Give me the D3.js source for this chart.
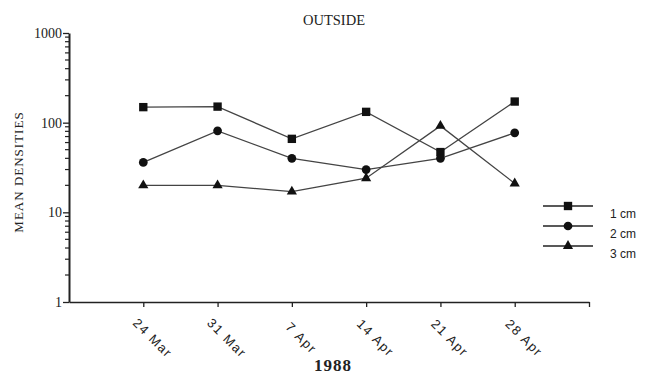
<!DOCTYPE html>
<html>
<head>
<meta charset="utf-8">
<script src="https://cdn.jsdelivr.net/npm/d3@7"></script>
<style>
  body { margin: 0; background: #fff; }
  svg { display: block; }
</style>
</head>
<body>
<div id="chart"></div>
<script>
//data
const dates = ["24 Mar", "31 Mar", "7 Apr", "14 Apr", "21 Apr", "28 Apr"];
const cm1 = [149, 151, 66, 132, 47, 172];
const cm2 = [36, 81, 40, 30, 40, 77];
const cm3 = [20, 20, 17, 24, 92, 21];
const seriesNames = ["1 cm", "2 cm", "3 cm"];
const yTicks = [1, 10, 100, 1000];

const width = 647, height = 377;
const ink = "#222";

const svg = d3.select("#chart").append("svg")
  .attr("width", width)
  .attr("height", height);

//scales: index 0..7 along x, log densities along y
const x = d3.scaleLinear().domain([0, 7]).range([69, 589]);
const y = d3.scaleLog().domain([1, 1000]).range([302, 33]);

//y axis with minor log ticks on the left
const minor = [];
for (let d = 1; d < 1000; d *= 10) {
  for (let k = 2; k <= 9; k++) minor.push(d * k);
}
svg.append("g")
  .selectAll("line")
  .data(minor)
  .join("line")
  .attr("x1", x(0) - 4)
  .attr("x2", x(0))
  .attr("y1", d => y(d))
  .attr("y2", d => y(d))
  .attr("stroke", ink)
  .attr("stroke-width", 1.2);

const yAxis = d3.axisLeft(y).tickValues(yTicks).tickFormat(d3.format("d")).tickSize(6).tickSizeOuter(0);
const gy = svg.append("g")
  .attr("transform", `translate(${x(0)},0)`)
  .call(yAxis);
gy.select(".domain").attr("stroke", ink).attr("stroke-width", 2);
gy.selectAll(".tick line").attr("stroke", ink).attr("stroke-width", 1.3);
gy.selectAll(".tick text")
  .attr("font-family", "Liberation Serif, serif")
  .attr("font-size", 14)
  .attr("fill", ink)
  .attr("x", -7);

//x axis with rotated date labels
const xAxis = d3.axisBottom(x)
  .tickValues([1, 2, 3, 4, 5, 6, 7])
  .tickFormat(d => dates[d - 1] || "")
  .tickSize(5)
  .tickSizeOuter(0);
const gx = svg.append("g")
  .attr("transform", `translate(0,${y(1)})`)
  .call(xAxis);
gx.select(".domain").attr("stroke", ink).attr("stroke-width", 1.5);
gx.selectAll(".tick line").attr("stroke", ink).attr("stroke-width", 1.3);
gx.selectAll(".tick text")
  .attr("font-family", "Liberation Sans, sans-serif")
  .attr("font-size", 13)
  .attr("letter-spacing", 1.5)
  .attr("fill", ink)
  .attr("text-anchor", "middle")
  .attr("transform", "translate(9,36) rotate(45)")
  .attr("x", 0)
  .attr("y", 0)
  .attr("dy", "0.35em");

//lines and markers
const series = [cm1, cm2, cm3];
const symbols = [d3.symbolSquare, d3.symbolCircle, d3.symbolTriangle];
const sizes = [70, 60, 45];

const line = d3.line()
  .x((d, i) => x(i + 1))
  .y(d => y(d));

series.forEach((vals, s) => {
  svg.append("path")
    .datum(vals)
    .attr("d", line)
    .attr("fill", "none")
    .attr("stroke", "#444")
    .attr("stroke-width", 1.3);
  svg.append("g")
    .selectAll("path")
    .data(vals)
    .join("path")
    .attr("transform", (d, i) => `translate(${x(i + 1)},${y(d)})`)
    .attr("d", d3.symbol().type(symbols[s]).size(sizes[s]))
    .attr("fill", "#111");
});

//legend
const legendY = [206, 226, 246];
seriesNames.forEach((name, s) => {
  const g = svg.append("g").attr("transform", `translate(0,${legendY[s]})`);
  g.append("line")
    .attr("x1", 543).attr("x2", 593)
    .attr("stroke", ink).attr("stroke-width", 1.3);
  g.append("path")
    .attr("transform", "translate(568,0)")
    .attr("d", d3.symbol().type(symbols[s]).size(sizes[s]))
    .attr("fill", "#111");
  g.append("text")
    .attr("x", 610)
    .attr("y", 12)
    .attr("font-family", "Liberation Sans, sans-serif")
    .attr("font-size", 12)
    .attr("fill", ink)
    .text(name);
});

//titles
svg.append("text")
  .attr("x", 334).attr("y", 25)
  .attr("text-anchor", "middle")
  .attr("font-family", "Liberation Serif, serif")
  .attr("font-size", 14.5)
  .attr("fill", ink)
  .text("OUTSIDE");

svg.append("text")
  .attr("transform", "translate(23,172) rotate(-90)")
  .attr("text-anchor", "middle")
  .attr("font-family", "Liberation Serif, serif")
  .attr("font-size", 13)
  .attr("letter-spacing", 1)
  .attr("fill", ink)
  .text("MEAN DENSITIES");

svg.append("text")
  .attr("x", 333).attr("y", 371)
  .attr("text-anchor", "middle")
  .attr("font-family", "Liberation Serif, serif")
  .attr("font-weight", "bold")
  .attr("font-size", 17)
  .attr("letter-spacing", 1)
  .attr("fill", ink)
  .text("1988");
</script>
</body>
</html>
